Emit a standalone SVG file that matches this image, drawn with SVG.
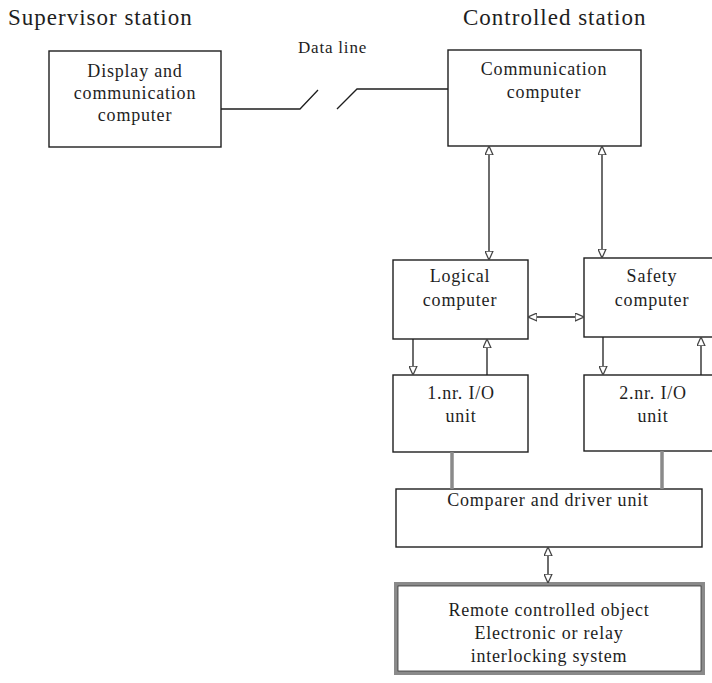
<svg xmlns="http://www.w3.org/2000/svg" width="712" height="683" viewBox="0 0 712 683">
  <style>
    .box { fill: #fff; stroke: #1e1e1e; stroke-width: 1.4; }
    .heavy { fill: #fff; stroke: #8a8a8a; stroke-width: 4; }
    .heavy-in { fill: none; stroke: #333; stroke-width: 0.8; }
    .lbl { font-family: "Liberation Serif", "Times New Roman", serif; font-size: 18px; letter-spacing: 0.8px; fill: #1e1e1e; text-anchor: middle; }
    .title { font-family: "Liberation Serif", "Times New Roman", serif; font-size: 23px; letter-spacing: 1px; fill: #1e1e1e; }
    .small { font-family: "Liberation Serif", "Times New Roman", serif; font-size: 17px; letter-spacing: 0.8px; fill: #1e1e1e; }
    .wire { fill: none; stroke: #1e1e1e; stroke-width: 1.3; }
    .bus { fill: none; stroke: #8a8a8a; stroke-width: 3.5; }
  </style>
  <defs>
    <marker id="tri" viewBox="0 0 10 10" refX="10" refY="5" markerWidth="9" markerHeight="9" markerUnits="userSpaceOnUse" orient="auto-start-reverse">
      <path d="M0,0.5 L10,5 L0,9.5 z" fill="#fff" stroke="#444" stroke-width="1.4"/>
    </marker>
  </defs>

  <rect width="712" height="683" fill="#fff"/>

  <!-- station headings -->
  <text class="title" x="8" y="25">Supervisor station</text>
  <text class="title" x="463" y="25">Controlled station</text>
  <text class="small" x="298" y="53">Data line</text>

  <g id="display-computer">
    <rect class="box" x="49" y="51" width="172" height="96"/>
    <text class="lbl" x="135" y="77">Display and</text>
    <text class="lbl" x="135" y="99">communication</text>
    <text class="lbl" x="135" y="121">computer</text>
  </g>

  <g id="communication-computer">
    <rect class="box" x="448" y="50" width="193" height="96"/>
    <text class="lbl" x="544" y="75">Communication</text>
    <text class="lbl" x="544" y="98">computer</text>
  </g>

  <g id="logical-computer">
    <rect class="box" x="393" y="260" width="135" height="79"/>
    <text class="lbl" x="460" y="282">Logical</text>
    <text class="lbl" x="460" y="306">computer</text>
  </g>

  <g id="safety-computer">
    <rect class="box" x="584" y="258" width="140" height="79"/>
    <text class="lbl" x="652" y="282">Safety</text>
    <text class="lbl" x="652" y="306">computer</text>
  </g>

  <g id="io-unit-1">
    <rect class="box" x="393" y="375" width="135" height="77"/>
    <text class="lbl" x="461" y="399">1.nr. I/O</text>
    <text class="lbl" x="461" y="422">unit</text>
  </g>

  <g id="io-unit-2">
    <rect class="box" x="584" y="375" width="140" height="76"/>
    <text class="lbl" x="653" y="399">2.nr. I/O</text>
    <text class="lbl" x="653" y="422">unit</text>
  </g>

  <g id="comparer-driver">
    <rect class="box" x="396" y="489" width="306" height="58" stroke="#444"/>
    <text class="lbl" x="548" y="506">Comparer and driver unit</text>
  </g>

  <g id="remote-object">
    <rect class="heavy" x="396" y="584" width="307" height="89"/>
    <rect class="heavy-in" x="398" y="586" width="303" height="85"/>
    <text class="lbl" x="549" y="616">Remote controlled object</text>
    <text class="lbl" x="549" y="639">Electronic or relay</text>
    <text class="lbl" x="549" y="662">interlocking system</text>
  </g>

  <g id="connectors">
    <!-- broken data line -->
    <polyline class="wire" points="221,109 300,109 318,90"/>
    <polyline class="wire" points="337,109 357,89 448,89"/>
    <!-- communication computer to both processors -->
    <line class="wire" x1="489" y1="146" x2="489" y2="260" marker-start="url(#tri)" marker-end="url(#tri)"/>
    <line class="wire" x1="602" y1="146" x2="602" y2="258" marker-start="url(#tri)" marker-end="url(#tri)"/>
    <!-- cross link -->
    <line class="wire" x1="528" y1="317" x2="584" y2="317" marker-start="url(#tri)" marker-end="url(#tri)"/>
    <!-- processor / I/O links -->
    <line class="wire" x1="413" y1="339" x2="413" y2="375" marker-end="url(#tri)"/>
    <line class="wire" x1="487" y1="375" x2="487" y2="339" marker-end="url(#tri)"/>
    <line class="wire" x1="603" y1="337" x2="603" y2="375" marker-end="url(#tri)"/>
    <line class="wire" x1="701" y1="375" x2="701" y2="337" marker-end="url(#tri)"/>
    <!-- I/O to comparer -->
    <line class="bus" x1="452" y1="452" x2="452" y2="489"/>
    <line class="bus" x1="662" y1="451" x2="662" y2="489"/>
    <!-- comparer to remote object -->
    <line class="wire" x1="548" y1="547" x2="548" y2="583" marker-start="url(#tri)" marker-end="url(#tri)"/>
  </g>
</svg>
